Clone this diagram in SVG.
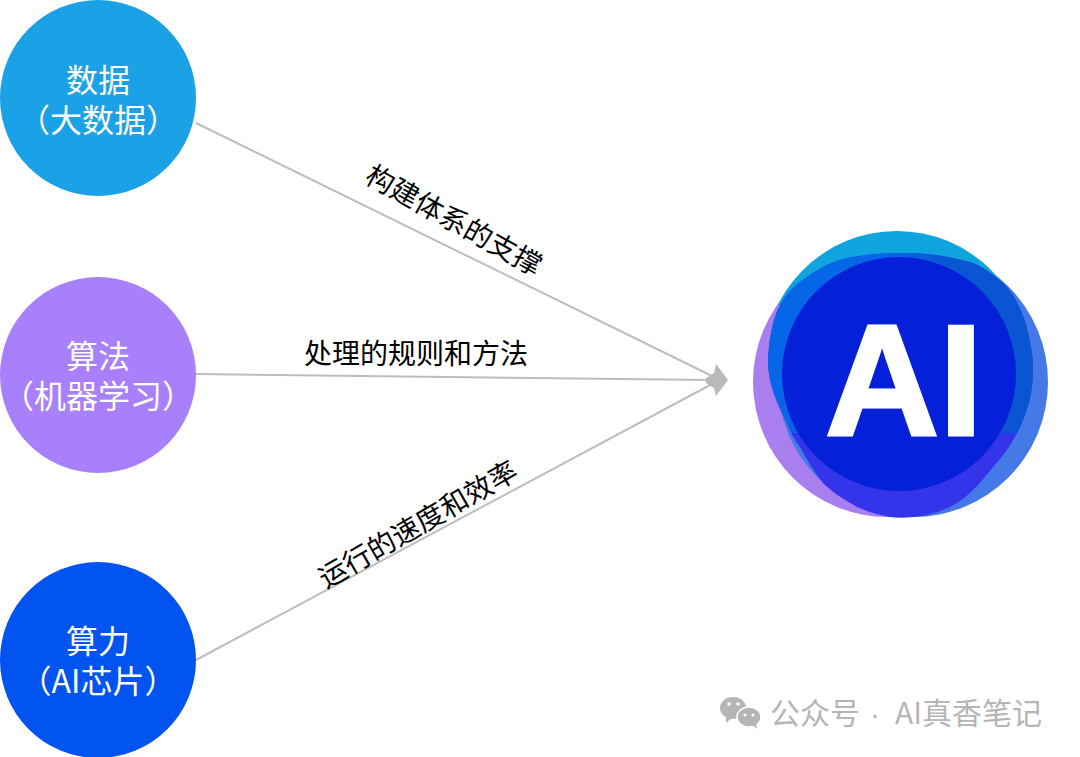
<svg xmlns="http://www.w3.org/2000/svg" width="1080" height="757" viewBox="0 0 1080 757">
<style>
text{font-family:"Noto Sans CJK SC","Liberation Sans",sans-serif}
.n{fill:#fff;font-size:32px;text-anchor:middle}
.l{fill:#000;font-size:28px;text-anchor:middle}
.c{fill:none;stroke:#bdbdbd;stroke-width:2}
.w{fill:#b5b5b5;font-size:30px}
</style>
<defs>
<clipPath id="up"><rect x="740" y="220" width="320" height="85"/></clipPath>
<linearGradient id="h" x1="0" x2="1" y1="0" y2="0"><stop offset="0.45" stop-color="#0566e8"/><stop offset="0.7" stop-color="#0a56d2"/></linearGradient>
</defs>
<rect width="1080" height="757" fill="#fff"/>
<g id="connectors">
<path class="c" d="M196 123L712 376"/>
<path class="c" d="M196 374L712 380"/>
<path class="c" d="M196 660L712 384"/>
<path d="M728 380L716 364L714 373L706 378L706 383L714 388L716 396Z" fill="#b9b9b9"/>
</g>
<g id="node-data"><circle cx="98" cy="98" r="98" fill="#1ba1e6"/>
<text class="n" x="98" y="92">数据</text><text class="n" x="98" y="132">（大数据）</text></g>
<g id="node-algo"><circle cx="98" cy="375" r="98" fill="#a880fb"/>
<text class="n" x="98" y="368">算法</text><text class="n" x="98" y="408">（机器学习）</text></g>
<g id="node-power"><circle cx="98" cy="660" r="98" fill="#0254f0"/>
<text class="n" x="98" y="653">算力</text><text class="n" x="98" y="693">（AI芯片）</text></g>
<g id="labels">
<text class="l" transform="translate(449 229) rotate(29)">构建体系的支撑</text>
<text class="l" x="416" y="364">处理的规则和方法</text>
<text class="l" transform="translate(423 533) rotate(-30)">运行的速度和效率</text>
</g>
<g id="node-ai">
<circle cx="888" cy="382" r="135" fill="#a97ff0"/>
<circle cx="913" cy="382" r="135" fill="#4579e8"/>
<circle cx="897" cy="364" r="133" fill="#10a4de" clip-path="url(#up)"/>
<path d="M768 360C770 330 775 312 783 300C790 289 798 283 807 277C820 268 830 263 840 260C860 254 885 253 907 253C930 253 952 257 973 263C985 268 997 277 1007 287C1022 305 1031 335 1033 363C1034 390 1028 412 1017 433C1008 450 1002 457 993 467C982 481 971 494 957 503C944 511 928 516 913 517C905 518 897 518 890 517C879 515 868 512 857 507C845 500 833 493 823 483C814 472 807 460 800 447C793 438 790 430 787 423C778 405 768 385 768 360Z" fill="#3434ea"/>
<path d="M768 360C770 330 775 312 783 300C790 289 798 283 807 277C820 268 830 263 840 260C860 254 885 253 907 253C930 253 952 257 973 263C985 268 997 277 1007 287C1022 305 1031 335 1033 363C1034 390 1028 412 1017 433L793 433L787 423C778 405 768 385 768 360Z" fill="url(#h)"/>
<circle cx="899" cy="374" r="117" fill="#0420d8"/>
<text x="825" y="434.5" font-size="158" font-weight="700" fill="#fff" stroke="#fff" stroke-width="3" textLength="158" lengthAdjust="spacingAndGlyphs" style="font-family:'Liberation Sans',sans-serif">AI</text>
</g>
<g id="watermark">
<ellipse cx="733" cy="708" rx="13" ry="11" fill="#b5b5b5"/><path d="M726 716L726 723L733 717Z" fill="#b5b5b5"/>
<ellipse cx="749" cy="717" rx="12" ry="10" fill="#b5b5b5" stroke="#fff" stroke-width="1.5"/><path d="M753 725L757 729L756 722Z" fill="#b5b5b5"/>
<circle cx="729" cy="704" r="1.8" fill="#fff"/><circle cx="738" cy="704" r="1.8" fill="#fff"/><circle cx="745" cy="715" r="1.5" fill="#fff"/><circle cx="753" cy="715" r="1.5" fill="#fff"/>
<text class="w" y="724"><tspan x="770">公众号 </tspan><tspan x="870" style="font-family:'Liberation Sans',sans-serif">· </tspan><tspan x="895">AI真香笔记</tspan></text>
</g>
</svg>
